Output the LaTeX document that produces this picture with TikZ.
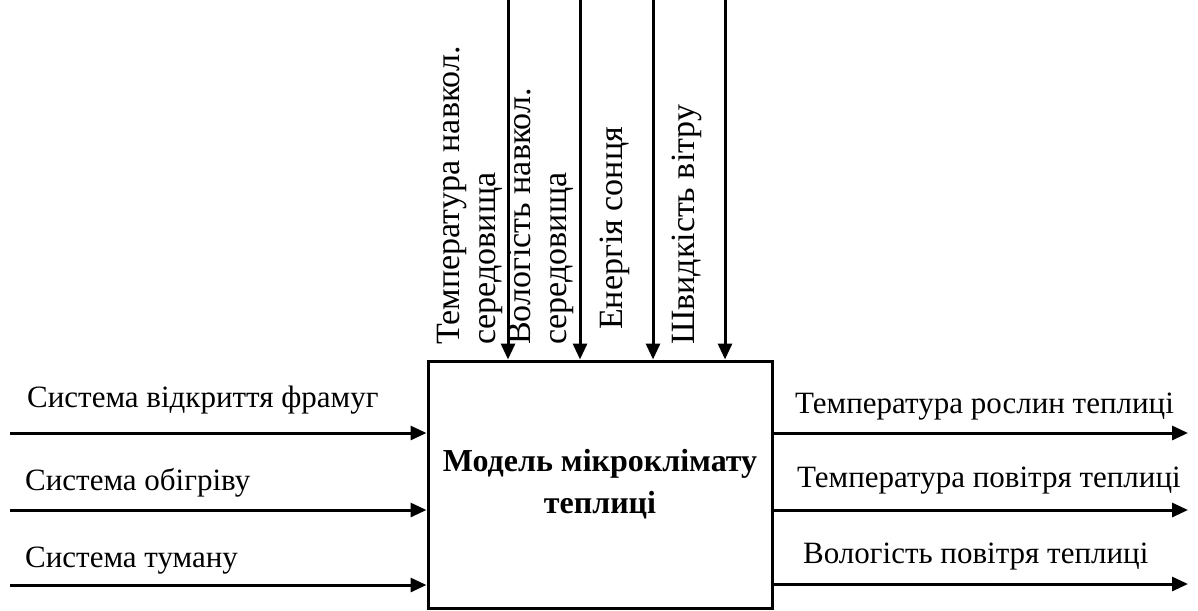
\documentclass[tikz,border=0pt]{standalone}
\usepackage{fontspec}
\setmainfont{Liberation Serif}
\usetikzlibrary{arrows.meta}

\begin{document}
\begin{tikzpicture}[x=1pt,y=-1pt,
  flow/.style={line width=3pt,-{Triangle[length=16pt,width=14pt]}},
  lbl/.style={font=\fontsize{31}{36}\selectfont,inner sep=0pt},
  vlbl/.style={lbl,font=\fontsize{34}{36}\selectfont,rotate=90,anchor=west,align=left}]
\useasboundingbox (0,0) rectangle (1198,610);

\node (model) [draw,line width=3pt,minimum width=344pt,minimum height=247pt,align=center,font=\fontsize{32}{42}\selectfont\bfseries] at (600,484.5) {Модель мікроклімату\\теплиці};

\coordinate (i1) at (10,433);
\coordinate (i2) at (10,510);
\coordinate (i3) at (10,585);

\coordinate (c1) at (508,0);
\coordinate (c2) at (580,0);
\coordinate (c3) at (653,0);
\coordinate (c4) at (725,0);

\coordinate (o1) at (1188,433);
\coordinate (o2) at (1188,510);
\coordinate (o3) at (1188,584);

\draw[flow] (i1) -- (i1 -| model.west);
\draw[flow] (i2) -- (i2 -| model.west);
\draw[flow] (i3) -- (i3 -| model.west);

\draw[flow] (c1) -- (c1 |- model.north);
\draw[flow] (c2) -- (c2 |- model.north);
\draw[flow] (c3) -- (c3 |- model.north);
\draw[flow] (c4) -- (c4 |- model.north);

\draw[flow] (model.east |- o1) -- (o1);
\draw[flow] (model.east |- o2) -- (o2);
\draw[flow] (model.east |- o3) -- (o3);

\node (li1) [lbl,anchor=base west] at (27,407) {Система відкриття фрамуг};
\node (li2) [lbl,anchor=base west] at (25,490) {Система обігріву};
\node (li3) [lbl,anchor=base west] at (25,567) {Система туману};

\node (lc1) [vlbl] at (470,345) {Температура навкол.\\середовища};
\node (lc2) [vlbl] at (541,345) {Вологість навкол.\\середовища};
\node (lc3) [vlbl] at (615,330) {Енергія сонця};
\node (lc4) [vlbl] at (687,345) {Швидкість вітру};

\node (lo1) [lbl,anchor=base west] at (795,413) {Температура рослин теплиці};
\node (lo2) [lbl,anchor=base west] at (797,487) {Температура повітря теплиці};
\node (lo3) [lbl,anchor=base west] at (803,563) {Вологість повітря теплиці};

\end{tikzpicture}
\end{document}
